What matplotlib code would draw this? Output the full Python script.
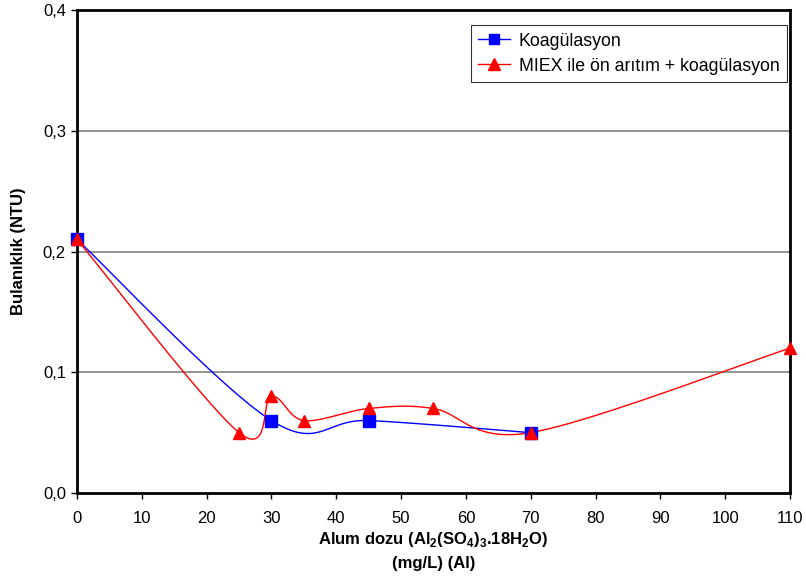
import numpy as np
import matplotlib
matplotlib.use("Agg")
import matplotlib.pyplot as plt

plt.rcParams['font.family'] = ['Liberation Sans', 'DejaVu Sans']
plt.rcParams['mathtext.fontset'] = 'custom'
plt.rcParams['mathtext.rm'] = 'Liberation Sans:bold'

# Koagülasyon
x_koag = [0, 30, 45, 70]
y_koag = [0.21, 0.06, 0.06, 0.05]
# MIEX ile ön arıtım + koagülasyon
x_miex = [0, 25, 30, 35, 45, 55, 70, 110]
y_miex = [0.21, 0.05, 0.08, 0.06, 0.07, 0.07, 0.05, 0.12]

xticks = list(range(0, 111, 10))
yticks = [0.0, 0.1, 0.2, 0.3, 0.4]
ytick_labels = ["0,0", "0,1", "0,2", "0,3", "0,4"]

W, H = 806, 579
fig = plt.figure(figsize=(W / 100, H / 100), dpi=100)
ax = fig.add_axes([77 / W, 1 - 493 / H, (790 - 77) / W, (493 - 10) / H])
ax.set_xlim(0, 110)
ax.set_ylim(0, 0.4)

# Excel style smoothing (bezier through points), done in pixel space
px_w, px_h = 790 - 77, 493 - 10


def smooth(xs, ys, n=40):
    p = np.column_stack([np.array(xs) / 110 * px_w, np.array(ys) / 0.4 * px_h])
    pts = np.vstack([p[0], p, p[-1]])
    out = []
    t = np.linspace(0, 1, n)[:, None]
    for i in range(1, len(pts) - 2):
        p0, p1, p2, p3 = pts[i - 1], pts[i], pts[i + 1], pts[i + 2]
        b1 = p1 + (p2 - p0) / 6
        b2 = p2 - (p3 - p1) / 6
        seg = ((1 - t) ** 3) * p1 + 3 * ((1 - t) ** 2) * t * b1 + 3 * (1 - t) * t ** 2 * b2 + t ** 3 * p2
        out.append(seg)
    c = np.vstack(out)
    return c[:, 0] / px_w * 110, c[:, 1] / px_h * 0.4


for y in yticks[1:4]:
    ax.axhline(y, color='#808080', lw=1.2, zorder=1)

sx, sy = smooth(x_koag, y_koag)
ax.plot(sx, sy, color='blue', lw=1, zorder=3)
ax.plot(x_koag, y_koag, ls='none', marker='s', ms=8, color='blue', zorder=4, clip_on=False)
sx, sy = smooth(x_miex, y_miex)
ax.plot(sx, sy, color='red', lw=1, zorder=3)
ax.plot(x_miex, y_miex, ls='none', marker='^', ms=9, color='red', zorder=5, clip_on=False)

# legend entries
ax.plot([], [], color='blue', lw=1, marker='s', ms=7, label='Koagülasyon')
ax.plot([], [], color='red', lw=1, marker='^', ms=8, label='MIEX ile ön arıtım + koagülasyon')
handles, labels = ax.get_legend_handles_labels()
leg = ax.legend(handles, labels, loc='upper right', bbox_to_anchor=(0.9955, 0.968),
                fontsize=12.8, frameon=True, fancybox=False, edgecolor='black',
                borderpad=0.4, handlelength=1.8, handletextpad=0.5,
                labelspacing=0.45, borderaxespad=0)
leg.get_frame().set_linewidth(0.8)

for s in ax.spines.values():
    s.set_linewidth(2)
    s.set_color('black')

ax.set_xticks(xticks)
ax.set_xticklabels([str(v) for v in xticks])
ax.set_yticks(yticks)
ax.set_yticklabels(ytick_labels)
ax.tick_params(axis='both', direction='out', length=4, width=1, labelsize=12, pad=4)
ax.tick_params(axis='x', pad=9)

ax.set_xlabel('Alum dozu (Al$_2$(SO$_4$)$_3$.18H$_2$O)\n(mg/L) (Al)',
              fontsize=12, fontweight='bold', linespacing=1.6, labelpad=3)
ax.set_ylabel('Bulanıklık (NTU)', fontsize=12, fontweight='bold', labelpad=12)

fig.savefig('out.png', dpi=100)
